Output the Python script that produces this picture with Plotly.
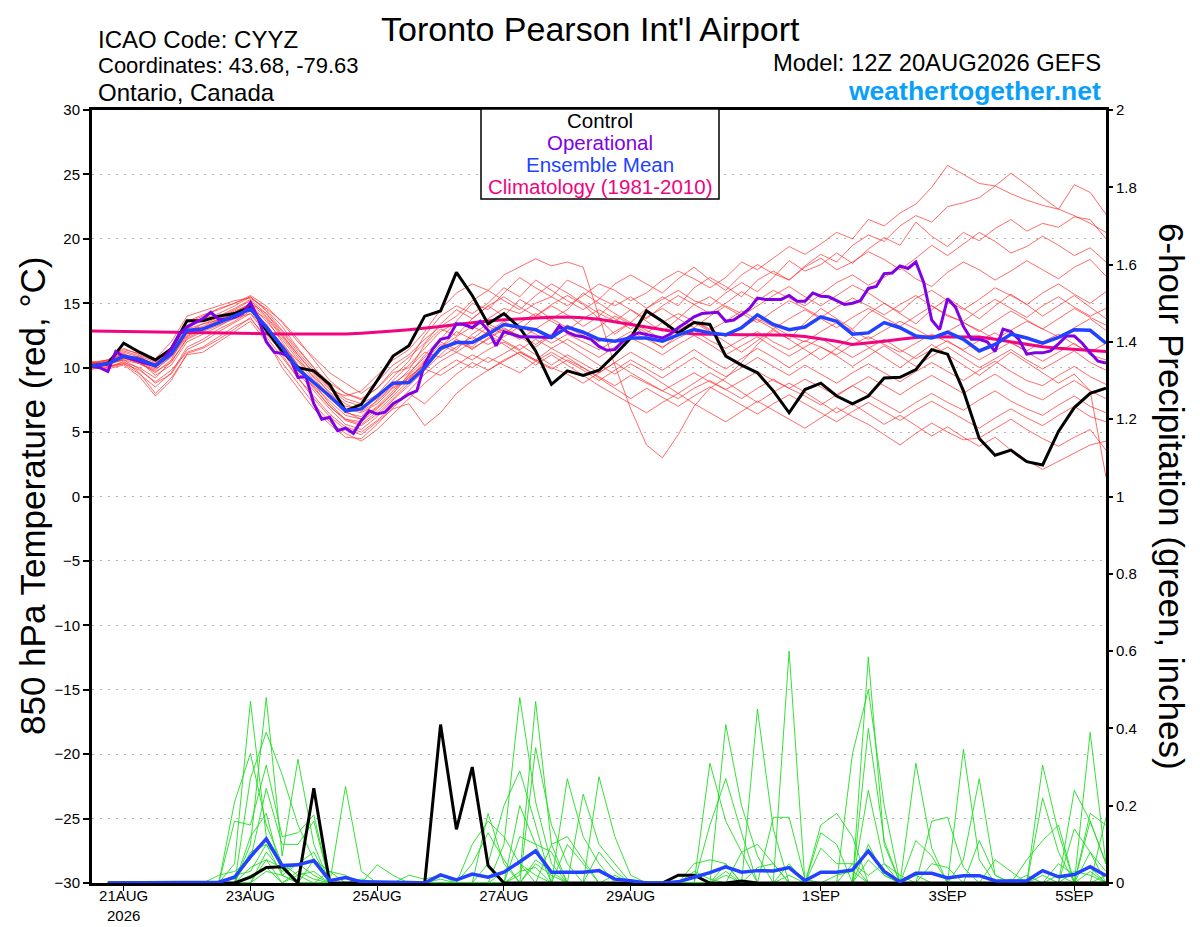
import pandas as pd
import plotly.graph_objects as go

# ---------------- time axes ----------------
START = "2026-08-20 12:00"
times = pd.date_range(START, periods=65, freq="6h")          # 6-hourly ensemble steps
times_op = pd.date_range(START, periods=129, freq="3h")      # 3-hourly operational run

tick_dates = ["2026-08-21", "2026-08-23", "2026-08-25", "2026-08-27",
              "2026-08-29", "2026-09-01", "2026-09-03", "2026-09-05"]
tick_labels = ["21AUG<br>2026", "23AUG", "25AUG", "27AUG", "29AUG", "1SEP", "3SEP", "5SEP"]

temp_ticks = [-30, -25, -20, -15, -10, -5, 0, 5, 10, 15, 20, 25, 30]
precip_ticks = [0, 0.2, 0.4, 0.6, 0.8, 1, 1.2, 1.4, 1.6, 1.8, 2]
precip_labels = ["0", "0.2", "0.4", "0.6", "0.8", "1", "1.2", "1.4", "1.6", "1.8", "2"]

legend_labels = ["Control", "Operational", "Ensemble Mean", "Climatology (1981-2010)"]

# ---------------- 850 hPa temperature (deg C) ----------------
control_temp = [
    10.15, 10.3, 11.9, 11.2, 10.6,
    11.45, 13.65, 13.65, 14.0, 14.2,
    14.7, 12.9, 11.3, 10.0, 9.75,
    8.7, 6.65, 7.15, 9.0, 10.9,
    11.7, 14.0, 14.4, 17.4, 15.6,
    13.4, 14.2, 13.1, 11.3, 8.7,
    9.75, 9.4, 9.8, 11.0, 12.3,
    14.4, 13.6, 12.7, 13.5, 13.35,
    10.9, 10.2, 9.6, 8.2, 6.5,
    8.3, 8.8, 7.8, 7.2, 7.8,
    9.2, 9.25, 9.85, 11.4, 11.05,
    8.2, 4.5, 3.2, 3.6, 2.7,
    2.45, 5.05, 6.9, 8.0, 8.4,
]

mean_temp = [
    10.15, 10.3, 10.9, 10.65, 10.15,
    11.05, 12.9, 13.0, 13.5, 14.05,
    14.55, 13.15, 11.6, 9.9, 8.85,
    7.8, 6.65, 6.8, 7.8, 8.8,
    8.85, 10.0, 11.5, 11.95, 11.95,
    12.6, 13.35, 13.15, 12.95, 12.35,
    13.15, 12.75, 12.2, 12.05, 12.3,
    12.3, 12.05, 12.55, 12.95, 12.7,
    12.55, 13.1, 14.1, 13.35, 12.95,
    13.15, 13.95, 13.6, 12.6, 12.7,
    13.5, 13.1, 12.45, 12.3, 12.75,
    12.2, 11.3, 11.8, 12.6, 12.3,
    11.9, 12.35, 12.95, 12.9, 11.9,
]

climo_temp = [
    12.85, 12.83, 12.8, 12.78, 12.75,
    12.72, 12.7, 12.68, 12.66, 12.65,
    12.64, 12.63, 12.62, 12.62, 12.62,
    12.62, 12.62, 12.68, 12.75, 12.85,
    12.95, 13.05, 13.2, 13.35, 13.5,
    13.62, 13.72, 13.8, 13.87, 13.92,
    13.94, 13.88, 13.75, 13.55, 13.3,
    13.1, 12.9, 12.75, 12.62, 12.58,
    12.55, 12.55, 12.55, 12.55, 12.52,
    12.42, 12.25, 12.05, 11.8, 11.9,
    12.05, 12.2, 12.35, 12.4, 12.4,
    12.4, 12.38, 12.2, 12.0, 11.8,
    11.62, 11.5, 11.4, 11.32, 11.25,
]

oper_temp = [
    10.15, 10.0, 9.7, 11.25, 10.85, 10.7, 10.5, 10.3,
    10.15, 10.7, 11.45, 12.6, 13.15, 13.5, 13.8, 14.3,
    13.75, 13.75, 13.9, 14.2, 15.05, 13.8, 12.0, 11.2,
    11.1, 10.8, 9.25, 9.3, 7.2, 6.0, 6.15, 5.1,
    5.3, 4.9, 5.9, 6.65, 6.4, 6.55, 7.2, 7.55,
    7.95, 8.2, 10.3, 11.45, 12.2, 12.35, 13.4, 13.35,
    13.1, 13.6, 12.9, 11.7, 12.8, 12.6, 12.4, 12.4,
    12.4, 12.4, 12.35, 13.25, 12.75, 12.5, 12.4, 12.2,
    11.65, 11.35, 11.4, 12.05, 12.45, 12.7, 12.55, 12.45,
    12.3, 12.6, 13.1, 13.5, 13.95, 14.2, 14.25, 14.3,
    13.6, 13.7, 14.1, 14.6, 15.4, 15.3, 15.3, 15.3,
    15.6, 15.15, 15.15, 15.8, 15.55, 15.5, 15.2, 14.9,
    15.0, 15.2, 16.15, 16.3, 17.3, 17.35, 17.9, 17.7,
    18.2, 16.6, 13.7, 12.95, 15.35, 14.7, 13.2, 12.2,
    12.2, 12.0, 11.25, 13.0, 12.8, 12.2, 11.05, 11.15,
    11.15, 11.3, 11.85, 12.45, 12.45, 11.9, 11.15, 10.5,
    10.35,
]

# ensemble members (thin red)
member_temp_01 = [10.3, 10.5, 11.0, 10.6, 10.0, 11.2, 13.0, 13.4, 13.9, 14.5,
                  15.2, 14.0, 12.5, 11.0, 9.5, 8.0, 7.0, 6.8, 7.8, 9.0,
                  10.2, 11.5, 12.8, 13.5, 13.0, 13.8, 14.6, 14.2, 15.0, 15.5,
                  14.8, 15.6, 16.5, 16.0, 15.2, 15.8, 16.8, 17.5, 16.9, 16.2,
                  17.0, 18.2, 17.6, 18.5, 19.4, 18.8, 19.6, 20.5, 20.0, 21.5,
                  21.0, 22.0, 22.7, 24.0, 25.7, 25.0, 24.3, 24.1, 23.5, 23.0,
                  22.6, 22.3, 21.8, 21.2, 20.5]
member_temp_02 = [10.1, 10.2, 10.7, 10.9, 10.4, 11.5, 13.3, 13.8, 14.2, 14.8,
                  15.5, 14.5, 13.2, 11.5, 10.0, 8.5, 7.6, 7.2, 7.9, 9.3,
                  10.5, 12.5, 14.0, 14.8, 14.2, 15.0, 16.2, 15.5, 16.8, 16.0,
                  15.2, 14.5, 15.3, 16.5, 17.2, 16.5, 15.8, 16.9, 17.8, 16.8,
                  16.0, 17.2, 18.0, 17.3, 16.8, 17.9, 18.8, 18.2, 19.5, 20.3,
                  19.8, 21.0, 21.8, 21.3, 22.5, 22.8, 23.2, 24.1, 25.1, 24.2,
                  23.2, 22.3, 24.2, 23.6, 21.9]
member_temp_03 = [10.4, 10.3, 10.6, 10.3, 9.8, 10.9, 12.5, 13.0, 13.6, 14.0,
                  14.6, 13.8, 12.0, 10.2, 8.8, 7.2, 6.0, 5.8, 6.8, 8.0,
                  9.5, 11.0, 12.2, 13.6, 15.0, 14.5, 15.8, 17.0, 16.2, 15.5,
                  16.8, 16.2, 15.4, 14.8, 15.5, 14.6, 15.3, 16.0, 15.2, 14.8,
                  15.8, 16.6, 15.9, 17.0, 18.3, 17.5, 18.0, 18.9, 18.1, 19.2,
                  20.1, 19.5, 21.3, 20.2, 19.4, 20.5, 19.85, 20.8, 21.5, 20.6,
                  21.2, 20.9, 21.7, 21.5, 20.0]
member_temp_04 = [10.0, 10.4, 11.2, 10.8, 10.2, 11.0, 12.6, 13.1, 13.5, 14.3,
                  14.8, 13.2, 11.8, 10.5, 9.0, 7.8, 6.5, 6.2, 7.5, 8.6,
                  9.8, 11.8, 13.0, 12.5, 13.8, 14.8, 14.0, 15.3, 14.6, 13.8,
                  14.5, 15.8, 15.0, 14.2, 13.5, 14.6, 15.5, 14.8, 16.2, 17.0,
                  16.3, 15.5, 16.8, 17.5, 16.8, 17.8, 18.5, 17.6, 18.2, 19.0,
                  18.4, 17.6, 18.5, 19.5, 18.7, 19.6, 20.5, 19.8, 18.9, 19.4,
                  20.2, 19.5, 18.7, 19.3, 18.2]
member_temp_05 = [10.2, 10.6, 11.5, 11.0, 10.5, 11.6, 13.5, 14.0, 14.6, 15.0,
                  15.6, 14.8, 13.5, 12.0, 10.8, 9.6, 8.8, 8.0, 8.9, 10.2,
                  11.0, 12.2, 13.2, 14.0, 15.2, 16.0, 15.2, 14.5, 15.6, 16.5,
                  15.8, 15.0, 14.2, 13.6, 14.5, 13.8, 14.8, 15.6, 14.9, 14.2,
                  15.0, 15.9, 15.2, 16.0, 15.4, 14.8, 15.7, 16.6, 17.2, 16.4,
                  17.0, 17.8, 16.9, 16.3, 17.4, 18.2, 17.6, 16.8, 17.5, 18.3,
                  17.6, 16.9, 17.8, 18.4, 17.1]
member_temp_06 = [10.5, 10.1, 10.4, 10.0, 9.2, 10.5, 12.2, 12.8, 13.3, 13.8,
                  14.2, 12.6, 11.2, 9.6, 8.2, 6.8, 5.6, 5.2, 6.2, 7.5,
                  8.6, 9.8, 11.0, 12.2, 11.6, 12.8, 13.6, 12.9, 14.0, 14.8,
                  14.1, 13.2, 14.0, 15.2, 14.5, 13.6, 12.8, 13.8, 14.9, 15.5,
                  14.7, 14.0, 14.8, 15.6, 16.3, 15.5, 14.8, 15.6, 16.4, 15.8,
                  15.0, 14.3, 15.4, 16.0, 15.2, 14.5, 15.3, 16.2, 15.6, 14.9,
                  15.8, 16.5, 15.7, 15.0, 15.9]
member_temp_07 = [10.2, 10.3, 11.0, 10.4, 9.6, 10.6, 12.8, 13.4, 13.7, 14.2,
                  15.0, 13.9, 12.4, 10.8, 9.2, 7.8, 6.8, 6.5, 7.2, 8.4,
                  9.2, 10.2, 11.6, 12.8, 12.2, 13.2, 12.6, 13.5, 14.2, 13.6,
                  12.9, 13.8, 14.5, 13.8, 13.0, 13.9, 14.6, 13.8, 13.1, 14.0,
                  14.8, 14.2, 13.5, 14.4, 15.2, 14.6, 13.9, 14.7, 15.4, 14.8,
                  14.1, 14.9, 15.6, 14.8, 14.0, 13.6, 14.5, 15.3, 14.6, 13.9,
                  14.8, 15.5, 14.7, 14.0, 14.6]
member_temp_08 = [10.3, 10.2, 10.9, 10.7, 10.3, 11.3, 13.2, 13.6, 14.0, 14.6,
                  15.3, 14.2, 12.8, 11.2, 9.8, 8.4, 7.4, 7.0, 7.6, 8.8,
                  9.6, 10.8, 12.0, 11.4, 12.6, 13.4, 12.8, 12.2, 13.0, 13.8,
                  13.1, 12.5, 13.2, 14.0, 13.4, 12.7, 13.5, 14.2, 13.6, 12.9,
                  13.6, 14.4, 13.7, 13.0, 13.8, 14.5, 13.8, 13.1, 13.9, 14.6,
                  13.9, 13.2, 14.0, 14.8, 14.1, 13.5, 12.8, 13.6, 14.4, 13.7,
                  13.0, 13.8, 14.6, 13.9, 13.3]
member_temp_09 = [10.0, 10.5, 11.3, 10.9, 10.1, 11.1, 12.9, 13.2, 13.8, 14.4,
                  14.9, 13.6, 12.2, 10.6, 9.3, 8.1, 7.2, 6.6, 7.4, 8.5,
                  9.1, 10.5, 11.4, 12.0, 11.5, 12.2, 13.0, 12.5, 11.8, 12.6,
                  13.3, 12.7, 12.0, 12.8, 13.5, 12.9, 12.2, 12.9, 13.6, 13.0,
                  12.4, 13.1, 13.8, 13.2, 12.5, 12.0, 12.8, 13.5, 12.9, 12.2,
                  12.9, 13.6, 13.0, 12.3, 12.8, 13.5, 12.9, 12.2, 12.9, 13.6,
                  13.0, 12.4, 13.1, 13.8, 12.9]
member_temp_10 = [10.4, 10.6, 11.4, 11.1, 10.7, 12.0, 14.0, 14.4, 14.8, 15.2,
                  15.4, 14.6, 13.6, 12.2, 10.6, 9.0, 8.0, 7.5, 8.4, 9.6,
                  10.0, 11.2, 10.8, 11.6, 12.4, 11.8, 12.4, 13.2, 12.6, 11.9,
                  12.6, 12.0, 11.4, 12.1, 12.8, 12.2, 11.6, 12.3, 12.9, 12.1,
                  11.5, 12.2, 12.8, 12.0, 11.4, 12.1, 11.6, 11.0, 11.8, 12.4,
                  11.8, 11.2, 11.9, 12.6, 12.0, 11.4, 12.1, 12.7, 11.9, 11.3,
                  12.0, 12.6, 11.8, 11.2, 11.9]
member_temp_11 = [9.9, 10.0, 10.3, 9.8, 8.9, 9.8, 11.2, 11.6, 12.4, 13.2,
                  13.8, 12.4, 10.8, 9.2, 7.8, 6.4, 5.4, 5.0, 5.9, 7.0,
                  8.2, 9.5, 10.5, 11.2, 10.6, 11.4, 12.0, 11.3, 10.6, 11.5,
                  12.2, 11.5, 10.8, 11.6, 12.3, 11.7, 11.0, 11.8, 12.5, 11.8,
                  11.0, 11.7, 12.4, 11.6, 10.9, 11.6, 12.3, 11.5, 10.8, 11.5,
                  12.2, 11.4, 10.7, 11.4, 12.1, 11.3, 10.6, 11.3, 12.0, 11.2,
                  10.5, 11.2, 11.9, 11.0, 10.6]
member_temp_12 = [10.1, 10.3, 10.6, 9.9, 8.8, 9.5, 11.4, 12.0, 12.8, 13.5,
                  14.2, 12.9, 11.4, 9.8, 8.5, 7.0, 5.9, 5.5, 6.4, 7.6,
                  8.8, 9.9, 9.4, 10.2, 11.0, 10.4, 11.1, 11.8, 11.0, 10.2,
                  11.0, 10.3, 9.6, 10.4, 11.2, 10.5, 9.8, 10.6, 11.4, 10.6,
                  9.9, 10.7, 11.5, 10.8, 10.0, 10.8, 11.6, 10.9, 10.1, 10.9,
                  11.7, 10.9, 10.1, 10.9, 11.6, 10.8, 10.0, 10.7, 11.4, 10.6,
                  9.9, 10.6, 11.3, 10.4, 9.8]
member_temp_13 = [10.2, 10.0, 10.5, 9.6, 8.0, 9.2, 11.0, 11.2, 12.0, 12.8,
                  13.6, 12.0, 10.4, 8.8, 7.2, 5.8, 4.9, 4.3, 5.2, 6.4,
                  7.6, 8.8, 9.8, 10.6, 10.0, 10.8, 10.2, 9.6, 10.5, 11.2,
                  10.5, 9.8, 9.0, 9.8, 10.6, 9.9, 9.2, 10.0, 10.8, 10.0,
                  9.3, 10.0, 10.8, 10.1, 9.4, 10.2, 9.5, 8.8, 9.6, 10.3,
                  9.6, 8.9, 9.7, 10.4, 9.7, 9.0, 9.8, 10.5, 9.7, 9.0,
                  8.6, 9.4, 10.1, 9.3, 8.7]
member_temp_14 = [10.0, 9.9, 10.2, 9.3, 7.8, 9.0, 11.1, 11.5, 12.2, 13.0,
                  13.9, 12.2, 10.0, 8.4, 6.8, 5.6, 4.6, 4.5, 5.6, 6.9,
                  8.0, 7.2, 8.4, 9.5, 10.4, 9.8, 10.6, 11.2, 10.5, 9.9,
                  10.6, 10.0, 9.3, 8.6, 9.4, 8.8, 8.2, 8.9, 9.6, 8.9,
                  8.3, 9.0, 9.7, 9.0, 8.4, 9.1, 8.5, 7.8, 8.6, 9.3,
                  8.6, 7.9, 8.7, 9.4, 8.7, 8.0, 8.8, 9.5, 8.7, 8.0,
                  7.5, 8.3, 9.0, 8.2, 7.6]
member_temp_15 = [10.3, 10.1, 10.3, 9.5, 8.5, 9.6, 11.6, 12.2, 13.0, 13.6,
                  14.4, 13.0, 11.0, 9.2, 7.6, 6.2, 5.2, 4.8, 5.8, 6.8,
                  7.2, 5.5, 6.5, 8.0, 9.0, 9.8, 10.5, 11.2, 10.6, 10.0,
                  9.5, 8.8, 9.6, 10.4, 9.6, 8.9, 8.2, 7.6, 8.4, 9.0,
                  8.3, 7.6, 8.4, 9.1, 8.4, 7.8, 7.1, 7.9, 8.6, 7.9,
                  7.2, 6.5, 7.3, 8.0, 7.3, 6.7, 7.5, 8.2, 7.4, 6.8,
                  6.3, 7.1, 7.8, 7.0, 6.5]
member_temp_16 = [10.4, 10.6, 11.1, 10.5, 9.4, 10.2, 12.0, 12.6, 13.2, 13.9,
                  14.5, 13.4, 11.6, 10.0, 8.6, 7.4, 6.3, 6.0, 7.0, 8.2,
                  9.4, 10.6, 11.8, 11.2, 12.0, 12.8, 12.1, 11.4, 12.2, 11.5,
                  10.8, 10.0, 9.2, 8.4, 7.6, 8.4, 7.7, 7.0, 7.8, 8.5,
                  7.8, 7.1, 6.4, 7.2, 7.9, 7.2, 6.5, 5.8, 6.6, 7.3,
                  6.6, 5.9, 6.7, 7.4, 6.7, 6.0, 5.3, 6.1, 6.8, 6.1,
                  5.5, 6.3, 7.0, 6.2, 5.8]
member_temp_17 = [10.2, 10.4, 10.9, 10.6, 10.0, 11.0, 12.7, 13.0, 13.4, 14.0,
                  14.6, 13.0, 11.4, 9.9, 8.4, 7.0, 6.0, 5.6, 6.6, 7.8,
                  9.0, 10.4, 11.6, 12.4, 13.2, 12.6, 11.8, 11.0, 10.2, 11.0,
                  10.2, 9.4, 8.6, 7.9, 7.2, 6.5, 7.3, 8.0, 7.2, 6.5,
                  5.8, 6.6, 7.4, 6.7, 6.0, 5.3, 6.1, 6.9, 6.2, 5.6,
                  4.8, 4.0, 4.9, 5.7, 5.0, 4.4, 4.55, 5.3, 6.0, 5.2,
                  4.5, 3.9, 4.6, 5.2, 3.6]
member_temp_18 = [9.9, 10.2, 10.8, 10.3, 9.7, 10.4, 12.3, 12.9, 13.6, 14.2,
                  14.9, 13.3, 11.8, 10.2, 8.8, 7.6, 6.6, 6.0, 6.9, 8.0,
                  9.3, 10.2, 11.3, 12.2, 11.4, 12.3, 13.1, 12.4, 11.6, 12.5,
                  11.8, 11.0, 10.2, 9.5, 10.3, 9.6, 8.8, 8.0, 8.8, 9.6,
                  8.9, 8.1, 7.3, 8.1, 8.8, 8.1, 7.3, 6.5, 7.2, 6.4,
                  5.6, 6.3, 5.5, 4.7, 5.4, 4.6, 3.9, 4.6, 3.6, 2.8,
                  2.1, 2.75, 3.4, 4.0, 4.3]
member_temp_19 = [10.1, 10.3, 10.7, 10.4, 9.9, 10.8, 12.4, 13.1, 13.7, 14.3,
                  15.0, 14.2, 12.6, 11.0, 9.6, 8.3, 7.8, 8.2, 9.4, 10.6,
                  11.4, 12.8, 14.5, 15.8, 16.5, 16.0, 17.2, 17.8, 18.45, 17.9,
                  18.2, 17.8, 14.0, 10.2, 6.8, 4.0, 3.0, 4.8, 7.0, 8.4,
                  9.2, 10.4, 11.8, 12.9, 12.2, 13.5, 14.6, 13.8, 13.0, 14.2,
                  15.0, 14.2, 13.4, 14.5, 15.4, 14.6, 13.8, 14.8, 15.7, 14.9,
                  14.0, 14.8, 15.6, 14.7, 13.8]
member_temp_20 = [10.3, 10.4, 11.0, 10.7, 10.3, 11.5, 13.6, 14.1, 14.5, 15.0,
                  15.5, 14.4, 12.9, 11.4, 10.0, 8.8, 8.0, 7.6, 8.4, 9.8,
                  10.8, 11.9, 13.4, 14.5, 13.8, 14.8, 15.5, 14.7, 14.0, 14.9,
                  15.6, 14.9, 13.8, 12.6, 13.5, 12.4, 11.5, 12.6, 13.5, 12.8,
                  12.0, 11.2, 12.1, 13.0, 12.2, 11.4, 10.6, 11.5, 12.4, 11.6,
                  10.8, 10.0, 10.9, 11.8, 11.0, 10.2, 9.4, 10.3, 11.2, 10.4,
                  9.6, 8.8, 9.5, 8.2, 1.5]

member_temps = [member_temp_01, member_temp_02, member_temp_03, member_temp_04,
                member_temp_05, member_temp_06, member_temp_07, member_temp_08,
                member_temp_09, member_temp_10, member_temp_11, member_temp_12,
                member_temp_13, member_temp_14, member_temp_15, member_temp_16,
                member_temp_17, member_temp_18, member_temp_19, member_temp_20]

# ---------------- 6-hour precipitation (inches), steps 1..64 ----------------
control_precip = [
    0, 0, 0, 0, 0, 0, 0, 0,
    0, 0.015, 0.04, 0.042, 0, 0.245, 0, 0,
    0, 0, 0, 0, 0, 0.41, 0.139, 0.30,
    0.045, 0, 0, 0, 0, 0, 0, 0,
    0, 0, 0, 0, 0.02, 0.02, 0, 0,
    0.005, 0, 0, 0, 0, 0, 0, 0,
    0, 0, 0, 0, 0, 0, 0, 0,
    0, 0, 0, 0, 0, 0, 0, 0,
]
mean_precip = [
    0, 0, 0, 0, 0, 0, 0, 0.002,
    0.015, 0.068, 0.114, 0.045, 0.047, 0.058, 0.006, 0.014,
    0.003, 0.003, 0.001, 0.001, 0, 0.021, 0.008, 0.023,
    0.015, 0.028, 0.055, 0.083, 0.028, 0.028, 0.028, 0.032,
    0.01, 0.006, 0, 0, 0.003, 0.015, 0.027, 0.042,
    0.028, 0.032, 0.031, 0.04, 0.006, 0.028, 0.028, 0.034,
    0.083, 0.03, 0.003, 0.025, 0.025, 0.013, 0.019, 0.019,
    0.006, 0.005, 0.006, 0.032, 0.016, 0.022, 0.042, 0.019,
]

member_precip_01 = [0, 0, 0, 0, 0, 0, 0, 0,
                    0.05, 0.47, 0.12, 0.05, 0.02, 0, 0, 0,
                    0, 0, 0, 0, 0, 0, 0, 0,
                    0, 0, 0.02, 0.47, 0.1, 0, 0, 0,
                    0, 0, 0, 0, 0, 0, 0, 0.05,
                    0, 0, 0, 0.6, 0, 0, 0, 0,
                    0.24, 0.05, 0, 0, 0, 0, 0.346, 0.06,
                    0, 0, 0, 0, 0, 0, 0.08, 0.03]
member_precip_02 = [0, 0, 0, 0, 0, 0, 0, 0,
                    0, 0.1, 0.48, 0.07, 0.32, 0.1, 0, 0,
                    0, 0, 0, 0, 0, 0, 0, 0,
                    0, 0.1, 0.48, 0.21, 0.05, 0, 0, 0,
                    0, 0, 0, 0, 0, 0, 0, 0,
                    0, 0.45, 0.14, 0, 0, 0, 0, 0,
                    0.585, 0.1, 0, 0, 0, 0, 0, 0,
                    0, 0, 0, 0.305, 0.13, 0, 0, 0]
member_precip_03 = [0, 0, 0, 0, 0, 0, 0, 0,
                    0.21, 0.335, 0.15, 0.05, 0, 0, 0, 0.25,
                    0.03, 0, 0, 0, 0, 0, 0, 0,
                    0.05, 0.2, 0.29, 0.15, 0, 0, 0, 0,
                    0, 0, 0, 0, 0, 0, 0.31, 0.16,
                    0.08, 0, 0, 0, 0, 0, 0, 0.335,
                    0.5, 0.2, 0, 0, 0, 0, 0, 0,
                    0, 0, 0, 0, 0, 0, 0.39, 0.05]
member_precip_04 = [0, 0, 0, 0, 0, 0, 0, 0,
                    0, 0.27, 0.39, 0.28, 0.15, 0.06, 0, 0,
                    0, 0, 0, 0, 0, 0, 0, 0,
                    0, 0, 0, 0.35, 0.15, 0.05, 0, 0,
                    0, 0, 0, 0, 0, 0, 0, 0.41,
                    0.2, 0.07, 0, 0, 0, 0, 0, 0,
                    0.4, 0.11, 0, 0.31, 0.09, 0, 0, 0,
                    0, 0, 0, 0, 0, 0.24, 0.16, 0.05]
member_precip_05 = [0, 0, 0, 0, 0, 0, 0, 0,
                    0.16, 0.15, 0.305, 0.12, 0.13, 0.176, 0, 0,
                    0, 0, 0, 0, 0, 0, 0, 0.05,
                    0.13, 0.06, 0, 0, 0, 0.27, 0.12, 0.05,
                    0, 0, 0, 0, 0, 0, 0, 0,
                    0, 0, 0, 0, 0, 0.15, 0.18, 0.12,
                    0, 0, 0, 0, 0, 0, 0.06, 0.27,
                    0.02, 0, 0, 0.22, 0.08, 0, 0, 0]
member_precip_06 = [0, 0, 0, 0, 0, 0, 0, 0.02,
                    0.03, 0.06, 0.245, 0.1, 0.1, 0.16, 0, 0,
                    0, 0.047, 0.02, 0, 0, 0, 0, 0,
                    0, 0, 0.2, 0.1, 0.08, 0, 0.23, 0.1,
                    0.05, 0, 0, 0, 0, 0, 0.15, 0.27,
                    0.13, 0, 0, 0, 0, 0, 0, 0,
                    0, 0, 0, 0, 0.16, 0.17, 0.04, 0,
                    0, 0, 0, 0, 0, 0, 0.18, 0.15]
member_precip_07 = [0, 0, 0, 0, 0, 0, 0, 0,
                    0, 0.12, 0.18, 0.02, 0.05, 0.08, 0, 0,
                    0, 0, 0, 0, 0, 0, 0, 0,
                    0, 0, 0.12, 0.1, 0, 0, 0, 0.275,
                    0.12, 0.02, 0, 0, 0, 0, 0, 0,
                    0, 0, 0.17, 0.17, 0.01, 0, 0, 0,
                    0.1, 0.02, 0, 0, 0, 0, 0, 0,
                    0, 0, 0.06, 0.11, 0.15, 0, 0, 0.17]
member_precip_08 = [0, 0, 0, 0, 0, 0, 0, 0,
                    0, 0.08, 0.1, 0.05, 0, 0.06, 0.03, 0,
                    0, 0, 0, 0, 0, 0, 0, 0.1,
                    0.16, 0.12, 0.05, 0, 0, 0, 0, 0.08,
                    0.03, 0, 0, 0, 0, 0.05, 0.06, 0.05,
                    0, 0, 0, 0, 0, 0.09, 0.05, 0.05,
                    0, 0, 0, 0.11, 0.07, 0, 0, 0,
                    0, 0, 0, 0, 0, 0.14, 0.08, 0]
member_precip_09 = [0, 0, 0, 0, 0, 0, 0, 0,
                    0, 0, 0.08, 0.03, 0.05, 0.02, 0, 0,
                    0, 0, 0, 0.02, 0.01, 0.02, 0, 0,
                    0, 0, 0, 0.05, 0.02, 0, 0, 0,
                    0, 0, 0, 0, 0, 0, 0, 0,
                    0.08, 0.1, 0.05, 0, 0, 0.13, 0.1, 0,
                    0, 0, 0, 0, 0, 0, 0, 0,
                    0.06, 0.03, 0, 0, 0.05, 0.02, 0.04, 0]
member_precip_10 = [0, 0, 0, 0, 0, 0, 0, 0,
                    0, 0.04, 0.06, 0, 0.02, 0.03, 0, 0,
                    0, 0, 0, 0, 0, 0, 0, 0,
                    0.18, 0.05, 0, 0, 0.1, 0.12, 0.06, 0,
                    0, 0, 0, 0, 0, 0, 0, 0,
                    0, 0.04, 0.05, 0, 0, 0, 0, 0.05,
                    0.02, 0.05, 0.02, 0, 0, 0, 0, 0.11,
                    0.02, 0, 0.02, 0, 0, 0, 0.16, 0.05]
member_precip_11 = [0, 0, 0, 0, 0, 0, 0, 0,
                    0.02, 0.03, 0.1, 0.02, 0, 0, 0.03, 0.02,
                    0, 0, 0, 0, 0, 0, 0, 0,
                    0, 0, 0, 0, 0, 0.1, 0.05, 0,
                    0, 0, 0, 0, 0, 0.03, 0.01, 0,
                    0, 0, 0, 0.05, 0, 0, 0, 0,
                    0, 0, 0, 0, 0.05, 0.04, 0, 0,
                    0, 0, 0, 0.02, 0, 0, 0, 0]
member_precip_12 = [0, 0, 0, 0, 0, 0, 0, 0,
                    0, 0, 0.06, 0.04, 0, 0, 0, 0,
                    0.01, 0, 0, 0, 0, 0, 0, 0,
                    0, 0.03, 0.05, 0.02, 0, 0, 0, 0,
                    0.02, 0, 0, 0, 0, 0, 0, 0.02,
                    0, 0, 0, 0, 0, 0, 0, 0,
                    0.06, 0.02, 0, 0, 0, 0, 0, 0,
                    0, 0.01, 0, 0, 0, 0.03, 0.02, 0]
member_precip_13 = [0, 0, 0, 0, 0, 0, 0, 0,
                    0, 0.02, 0.04, 0, 0.03, 0.01, 0, 0,
                    0, 0, 0, 0, 0, 0.01, 0, 0,
                    0, 0, 0.03, 0.04, 0, 0, 0, 0,
                    0, 0, 0, 0, 0, 0, 0, 0,
                    0, 0, 0, 0, 0, 0, 0.02, 0.03,
                    0, 0, 0, 0, 0, 0, 0, 0,
                    0, 0, 0, 0, 0.02, 0, 0, 0.02]
member_precip_14 = [0, 0, 0, 0, 0, 0, 0, 0,
                    0, 0, 0.03, 0.02, 0, 0, 0, 0,
                    0, 0, 0, 0, 0, 0, 0, 0,
                    0, 0, 0, 0.06, 0.03, 0, 0, 0,
                    0, 0, 0, 0, 0, 0, 0, 0.03,
                    0, 0, 0, 0.02, 0, 0, 0, 0,
                    0, 0, 0, 0.02, 0, 0, 0, 0,
                    0, 0, 0, 0, 0, 0, 0.03, 0]

member_precips = [member_precip_01, member_precip_02, member_precip_03, member_precip_04,
                  member_precip_05, member_precip_06, member_precip_07, member_precip_08,
                  member_precip_09, member_precip_10, member_precip_11, member_precip_12,
                  member_precip_13, member_precip_14]

# ---------------- colours ----------------
RED = "rgba(255,45,45,0.78)"
GREEN = "#1fdc1f"
BLUE = "#2242ff"
PURPLE = "#8200e4"
PINK = "#f0047f"
BLACK = "#000000"
FONT = "Liberation Sans, Arial, Helvetica, sans-serif"

# The page body has an 8px margin, so the figure is drawn 8px right/down;
# the figure is sized to fit inside the 1200x927 window.
FIG_W, FIG_H = 1192, 919

fig = go.Figure()
t_precip = times[1:]

for m in member_temps:
    fig.add_trace(go.Scatter(x=times, y=m, mode="lines",
                             line=dict(color=RED, width=0.9), yaxis="y"))
for p in member_precips:
    fig.add_trace(go.Scatter(x=t_precip, y=p, mode="lines",
                             line=dict(color=GREEN, width=0.9), yaxis="y2"))

fig.add_trace(go.Scatter(x=times, y=climo_temp, mode="lines",
                         line=dict(color=PINK, width=3), yaxis="y"))
fig.add_trace(go.Scatter(x=times, y=control_temp, mode="lines",
                         line=dict(color=BLACK, width=3), yaxis="y"))
fig.add_trace(go.Scatter(x=times_op, y=oper_temp, mode="lines",
                         line=dict(color=PURPLE, width=3), yaxis="y"))
fig.add_trace(go.Scatter(x=times, y=mean_temp, mode="lines",
                         line=dict(color=BLUE, width=3.5), yaxis="y"))
fig.add_trace(go.Scatter(x=t_precip, y=control_precip, mode="lines",
                         line=dict(color=BLACK, width=3), yaxis="y2"))
fig.add_trace(go.Scatter(x=t_precip, y=mean_precip, mode="lines",
                         line=dict(color=BLUE, width=3.5), yaxis="y2"))

fig.update_layout(
    width=FIG_W, height=FIG_H, autosize=False,
    margin=dict(l=84, r=94, t=102, b=44, pad=0),
    paper_bgcolor="white", plot_bgcolor="white",
    showlegend=False,
    font=dict(family=FONT, color="black", size=15),
    xaxis=dict(
        type="date", automargin=False,
        range=[times[0], times[-1]],
        tickvals=tick_dates, ticktext=tick_labels,
        ticks="outside", ticklen=5, tickwidth=1, tickcolor="black",
        ticklabelstandoff=-8,
        showgrid=False, zeroline=False,
        showline=True, linewidth=3, linecolor="black", mirror=True,
        tickfont=dict(size=15, family=FONT),
    ),
    yaxis=dict(
        automargin=False,
        range=[-30, 30], tickvals=temp_ticks,
        ticks="outside", ticklen=6, tickwidth=2, tickcolor="black",
        showgrid=True, gridcolor="#b4b4b4", gridwidth=1, griddash="2px,6px",
        zeroline=False,
        showline=True, linewidth=3, linecolor="black", mirror=True,
        tickfont=dict(size=15, family=FONT),
    ),
    yaxis2=dict(
        automargin=False,
        range=[0, 2], tickvals=precip_ticks, ticktext=precip_labels,
        overlaying="y", side="right",
        ticks="outside", ticklen=6, tickwidth=2, tickcolor="black",
        showgrid=False, zeroline=False, showline=False,
        tickfont=dict(size=15, family=FONT),
    ),
)

# helpers: window pixel -> paper coordinate (plot area spans x 92..1106, y 110..883)
def px_x(x):
    return (x - 92) / 1014.0

def px_y(y):
    return (883 - y) / 773.0

# legend box
fig.add_shape(type="rect", xref="paper", yref="paper",
              x0=px_x(481), x1=px_x(719), y0=px_y(199), y1=px_y(109),
              line=dict(color="black", width=1.5), fillcolor="white", layer="above")

legend_colors = [BLACK, PURPLE, BLUE, PINK]
legend_y = [121, 142.5, 164, 186]

ann = [
    dict(text="Toronto Pearson Int'l Airport", x=px_x(590), y=px_y(8.5),
         xanchor="center", yanchor="top", font=dict(size=34)),
    dict(text="ICAO Code: CYYZ", x=px_x(97), y=px_y(40),
         xanchor="left", yanchor="middle", font=dict(size=24)),
    dict(text="Coordinates: 43.68, -79.63", x=px_x(97), y=px_y(66),
         xanchor="left", yanchor="middle", font=dict(size=22)),
    dict(text="Ontario, Canada", x=px_x(97), y=px_y(93),
         xanchor="left", yanchor="middle", font=dict(size=24)),
    dict(text="Model: 12Z 20AUG2026 GEFS", x=px_x(1102), y=px_y(62),
         xanchor="right", yanchor="middle", font=dict(size=23.8)),
    dict(text="<b>weathertogether.net</b>", x=px_x(1102), y=px_y(91),
         xanchor="right", yanchor="middle", font=dict(size=26.5, color="#0aa0fa")),
    dict(text="850 hPa Temperature (red, °C)", x=px_x(32), y=px_y(496),
         xanchor="center", yanchor="middle", textangle=-90, font=dict(size=35)),
    dict(text="6-hour Precipitation (green, inches)", x=px_x(1172), y=px_y(496),
         xanchor="center", yanchor="middle", textangle=90, font=dict(size=35)),
]
for lab, col, yy in zip(legend_labels, legend_colors, legend_y):
    ann.append(dict(text=lab, x=px_x(600), y=px_y(yy), xanchor="center",
                    yanchor="middle", font=dict(size=20.5, color=col)))

for a in ann:
    a.update(xref="paper", yref="paper", showarrow=False, borderpad=0)
    fig.add_annotation(**a)

fig.write_html("out.html")
